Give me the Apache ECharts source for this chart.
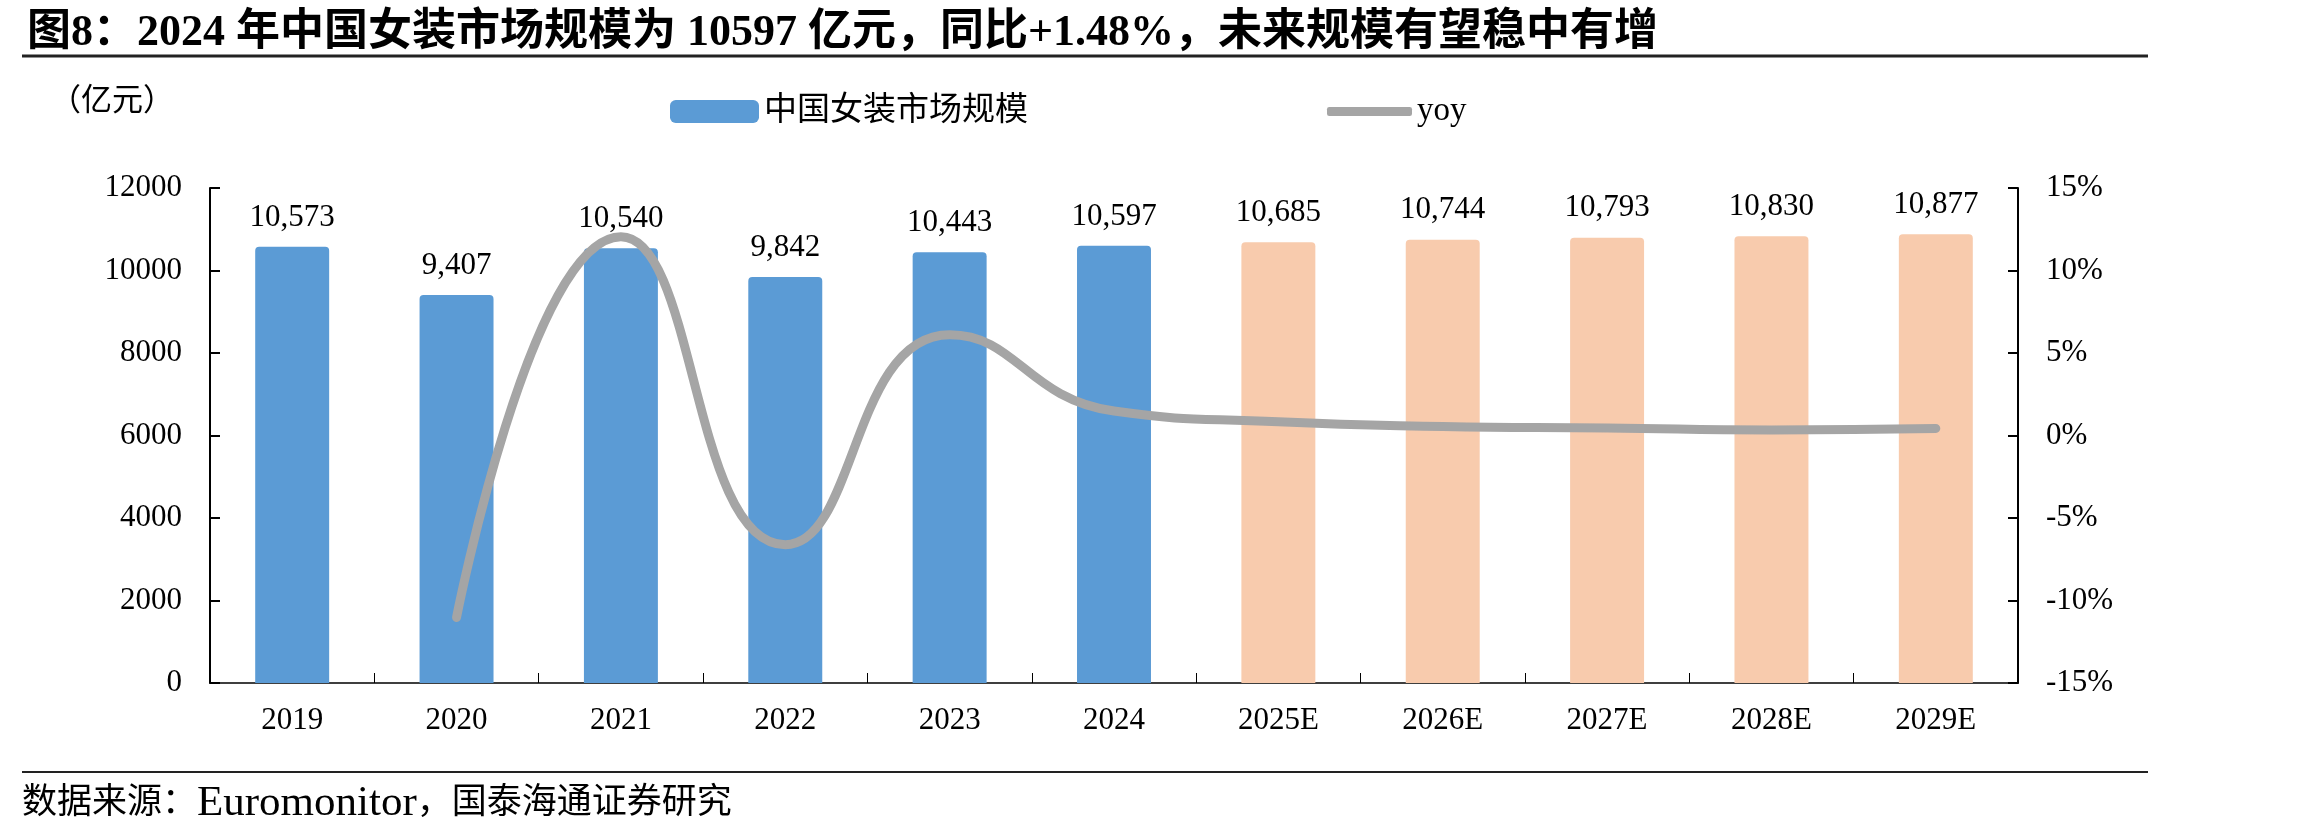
<!DOCTYPE html>
<html>
<head>
<meta charset="utf-8">
<script src="https://cdn.jsdelivr.net/npm/echarts@6/dist/echarts.min.js"></script>
<style>
  html, body { margin: 0; padding: 0; background: #fff; }
  #chart { width: 2303px; height: 833px; }
</style>
</head>
<body>
<div id="chart"></div>
<script>
// 数据
var years = ['2019', '2020', '2021', '2022', '2023', '2024', '2025E', '2026E', '2027E', '2028E', '2029E'];
var marketSize = [10573, 9407, 10540, 9842, 10443, 10597, 10685, 10744, 10793, 10830, 10877];
// yoy(%)，2019 无数据
var yoy = [null, -11.03, 12.04, -6.62, 6.11, 1.48, 0.83, 0.55, 0.46, 0.34, 0.43];
var leftTicks = { min: 0, max: 12000, interval: 2000 };
var rightTicks = { min: -15, max: 15, interval: 5 };

var serif = "'Liberation Serif', 'Times New Roman', 'Noto Sans CJK SC', serif";
var blue = '#5B9BD5';
var peach = '#F8CBAD';
var grey = '#A5A5A5';

var myChart = echarts.init(document.getElementById('chart'));

var option = {
  backgroundColor: '#fff',
  animation: false,
  title: {
    text: '图8：2024 年中国女装市场规模为 10597 亿元，同比+1.48%，未来规模有望稳中有增',
    left: 22,
    top: 7,
    textStyle: {
      fontFamily: serif,
      fontWeight: 'bold',
      fontSize: 44,
      color: '#000'
    }
  },
  legend: [
    {
      left: 665,
      top: 90,
      itemWidth: 89,
      itemHeight: 23,
      icon: 'roundRect',
      textStyle: { fontFamily: serif, fontSize: 33, color: '#000' },
      data: [{ name: '中国女装市场规模', itemStyle: { color: blue } }]
    },
    {
      left: 1322,
      top: 90,
      itemWidth: 85,
      itemHeight: 9,
      icon: 'roundRect',
      textStyle: { fontFamily: serif, fontSize: 33, color: '#000' },
      data: [{ name: 'yoy', itemStyle: { color: grey } }]
    }
  ],
  grid: {
    left: 210,
    right: 285,
    top: 188,
    bottom: 150
  },
  xAxis: {
    type: 'category',
    data: years,
    axisLine: { lineStyle: { color: '#000', width: 1.5 } },
    axisTick: { show: true, inside: true, length: 10, lineStyle: { color: '#000' } },
    axisLabel: { fontFamily: serif, fontSize: 31, color: '#000', margin: 22 }
  },
  yAxis: [
    {
      type: 'value',
      min: leftTicks.min,
      max: leftTicks.max,
      interval: leftTicks.interval,
      splitLine: { show: false },
      axisLine: { show: true, lineStyle: { color: '#000', width: 2 } },
      axisTick: { show: true, inside: true, length: 10, lineStyle: { color: '#000', width: 2 } },
      axisLabel: {
        fontFamily: serif, fontSize: 31, color: '#000', margin: 28,
        formatter: function (v) { return String(v); }
      }
    },
    {
      type: 'value',
      min: rightTicks.min,
      max: rightTicks.max,
      interval: rightTicks.interval,
      splitLine: { show: false },
      axisLine: { show: true, lineStyle: { color: '#000', width: 2 } },
      axisTick: { show: true, inside: true, length: 10, lineStyle: { color: '#000', width: 2 } },
      axisLabel: { fontFamily: serif, fontSize: 31, color: '#000', margin: 28, formatter: '{value}%' }
    }
  ],
  series: [
    {
      name: '中国女装市场规模',
      type: 'bar',
      data: marketSize,
      barWidth: '45%',
      itemStyle: {
        borderRadius: [4, 4, 0, 0],
        color: function (p) {
          // 预测年份用浅橙色
          return /E$/.test(p.name) ? peach : blue;
        }
      },
      label: {
        show: true,
        position: 'top',
        distance: 14,
        fontFamily: serif,
        fontSize: 31,
        color: '#000',
        formatter: function (p) {
          return p.value.toLocaleString('en-US');
        }
      }
    },
    {
      name: 'yoy',
      type: 'line',
      yAxisIndex: 1,
      data: yoy,
      smooth: 0.5,
      symbol: 'none',
      connectNulls: false,
      z: 5,
      lineStyle: { color: grey, width: 9, cap: 'round', join: 'round' }
    }
  ],
  graphic: [
    {
      type: 'line',
      shape: { x1: 22, y1: 56, x2: 2148, y2: 56 },
      style: { stroke: '#222', lineWidth: 3 }
    },
    {
      type: 'text',
      left: 50,
      top: 86,
      style: {
        text: '{p|（}{c|亿元}{p|）}',
        rich: {
          p: { fontFamily: serif, fontSize: 31, fill: '#000', width: 31, align: 'center' },
          c: { fontFamily: serif, fontSize: 31, fill: '#000' }
        }
      }
    },
    {
      type: 'line',
      shape: { x1: 22, y1: 772, x2: 2148, y2: 772 },
      style: { stroke: '#222', lineWidth: 2 }
    },
    {
      type: 'text',
      left: 22,
      top: 782,
      style: {
        text: '{c|数据来源：}{e|Euromonitor}{c|，国泰海通证券研究}',
        rich: {
          c: { fontFamily: serif, fontSize: 35, fill: '#000' },
          e: { fontFamily: serif, fontSize: 43, fill: '#000' }
        }
      }
    }
  ]
};

myChart.setOption(option);
</script>
</body>
</html>
